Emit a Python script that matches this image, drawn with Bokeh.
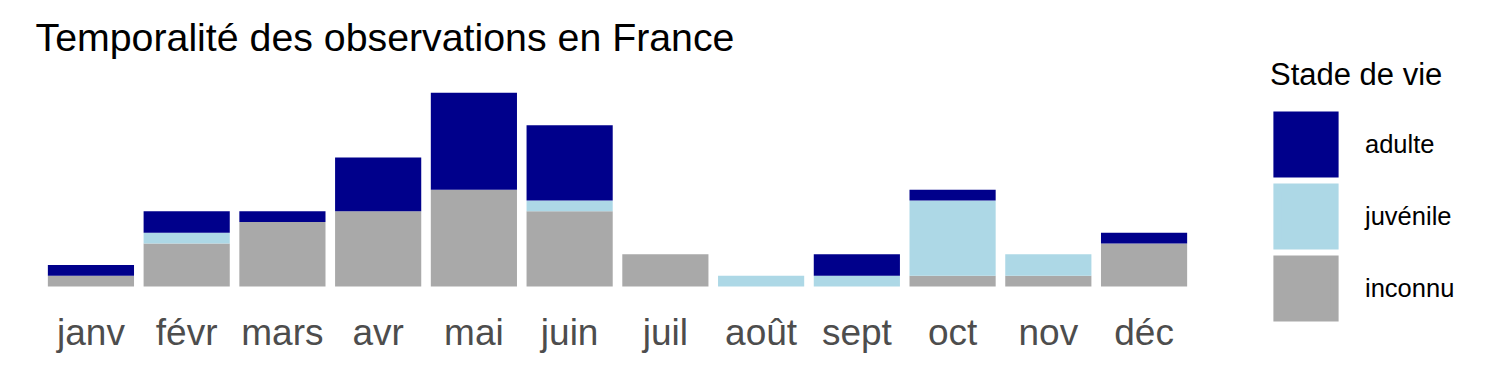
import numpy as np
from bokeh.plotting import figure
from bokeh.models import Range1d, FixedTicker, Legend, LegendItem, Label, ColumnDataSource
from bokeh.embed import file_html
from bokeh.resources import INLINE

months = ["janv", "févr", "mars", "avr", "mai", "juin", "juil", "août", "sept", "oct", "nov", "déc"]
inconnu = [1, 4, 6, 7, 9, 7, 3, 0, 0, 1, 1, 4]
juvenile = [0, 1, 0, 0, 0, 1, 0, 1, 1, 7, 2, 0]
adulte = [1, 2, 1, 5, 9, 7, 0, 0, 2, 1, 0, 1]
stage_labels = ["inconnu", "juvénile", "adulte"]
stage_keys = ["inconnu", "juvenile", "adulte"]
stage_colors = ["#A9A9A9", "#ADD8E6", "#00008B"]

FONT = "Liberation Sans"
xpos = list(range(1, len(months) + 1))
src = ColumnDataSource(dict(x=xpos, inconnu=inconnu, juvenile=juvenile, adulte=adulte))

# frame spans the whole canvas (except the tick-label strip) so that the
# title and legend annotations are not clipped
FRAME_H = 325
p = figure(width=1500, height=375,
           x_range=Range1d(0.0553, 15.723), y_range=Range1d(-3.625, 26.585),
           output_backend="svg", toolbar_location=None, y_axis_location=None,
           min_border_left=0, min_border_right=0, min_border_top=0, min_border_bottom=375 - FRAME_H)
p.outline_line_color = None
p.xgrid.visible = False
p.ygrid.visible = False

rs = p.vbar_stack(stage_keys, x="x", width=0.9, color=stage_colors, source=src, line_width=0)

# legend-only key renderers (a single NaN row, so nothing is drawn in the plot);
# a stroke of the same colour enlarges the key square
key_rs = []
for c in stage_colors:
    ksrc = ColumnDataSource(dict(x=np.array([np.nan]), top=np.array([np.nan])))
    key_rs.append(p.vbar(x="x", top="top", width=0.9, source=ksrc, fill_color=c, line_color=c,
                         line_width=8.4, line_join="miter"))

ax = p.xaxis[0]
ax.ticker = FixedTicker(ticks=xpos)
ax.major_label_overrides = {i: m for i, m in zip(xpos, months)}
ax.major_tick_line_color = None
ax.minor_tick_line_color = None
ax.axis_line_color = None
ax.major_label_text_font = FONT
ax.major_label_text_font_size = "37px"
ax.major_label_text_color = "#4D4D4D"
ax.major_label_standoff = -20

items = [LegendItem(label=stage_labels[i], renderers=[key_rs[i]]) for i in (2, 1, 0)]
legend = Legend(items=items, title="Stade de vie", location=(1270, FRAME_H - 324),
                glyph_width=71, glyph_height=72, spacing=0, label_standoff=24,
                padding=0, margin=0, border_line_color=None, background_fill_alpha=0,
                title_text_font=FONT, title_text_font_size="31px", title_text_font_style="normal",
                title_standoff=15, label_text_font=FONT, label_text_font_size="25.5px",
                label_text_color="black", title_text_color="black")
p.add_layout(legend, "center")

title = Label(x=35, y=FRAME_H - 36, x_units="screen", y_units="screen",
              text="Temporalité des observations en France",
              text_font=FONT, text_font_size="39.3px", text_baseline="alphabetic", text_color="black")
p.add_layout(title)

open("out.html", "w").write(file_html(p, INLINE))
